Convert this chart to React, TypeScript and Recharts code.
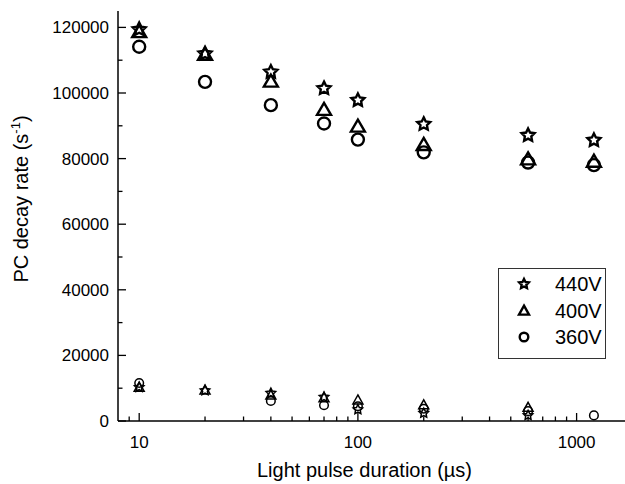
import React from "react";
import { ScatterChart, Scatter, XAxis, YAxis, Label } from "recharts";

// pulse durations (µs)
const durations = [10, 20, 40, 70, 100, 200, 600, 1200];

// fast component decay rates (s^-1)
const fast440 = [119400, 112000, 106400, 101400, 97800, 90500, 87100, 85600];
const fast400 = [118500, 111600, 103400, 94800, 89700, 84100, 79700, 79000];
const fast360 = [114100, 103400, 96300, 90700, 85800, 81900, 78800, 78000];

// slow component decay rates (s^-1)
const slow440 = [10300, 9300, 8500, 7300, 3500, 2400, 1700, null];
const slow400 = [10150, 9300, 7800, 7000, 6300, 4800, 4050, null];
const slow360 = [11600, null, 6100, 4800, 4500, 3750, 3000, 1700];

const xMajorTicks = [10, 100, 1000];
const xMinorTicks = [9, 20, 30, 40, 50, 60, 70, 80, 90, 200, 300, 400, 500, 600, 700, 800, 900];
const yMajorTicks = [0, 20000, 40000, 60000, 80000, 100000, 120000];
const yMinorTicks = [10000, 30000, 50000, 70000, 90000, 110000];

const legendItems = [
  { label: "440V", kind: "star" },
  { label: "400V", kind: "triangle" },
  { label: "360V", kind: "circle" },
];

const FONT = '"Liberation Sans", Arial, sans-serif';
const xTicks = [...xMinorTicks, ...xMajorTicks].sort((a, b) => a - b);
const yTicks = [...yMinorTicks, ...yMajorTicks].sort((a, b) => a - b);

const toPoints = (vals: (number | null)[]) =>
  durations
    .map((d, i) => ({ x: d, y: vals[i] }))
    .filter((p) => p.y !== null);

function starPath(cx: number, cy: number, R: number) {
  const r = R * 0.5;
  let d = "";
  for (let i = 0; i < 10; i++) {
    const rad = i % 2 === 0 ? R : r;
    const a = -Math.PI / 2 + (i * Math.PI) / 5;
    d += (i === 0 ? "M" : "L") + (cx + rad * Math.cos(a)).toFixed(2) + "," + (cy + rad * Math.sin(a)).toFixed(2);
  }
  return d + "Z";
}

// size: 0 = small plot marker, 1 = big plot marker, 2 = legend
function Marker({ kind, cx, cy, size }: { kind: string; cx: number; cy: number; size: number }) {
  const big = size === 1;
  const sw = size === 1 ? 2.4 : size === 2 ? 2.4 : 1.5;
  if (kind === "star") {
    return <path d={starPath(cx, cy, big ? 6.8 : 5)} fill="none" stroke="#000" strokeWidth={sw} strokeLinejoin="miter" />;
  }
  if (kind === "triangle") {
    const h = big ? 12 : 9;
    const w = big ? 14 : 10;
    const d = `M${cx},${cy - h * 0.6}L${cx + w / 2},${cy + h * 0.4}L${cx - w / 2},${cy + h * 0.4}Z`;
    return <path d={d} fill="none" stroke="#000" strokeWidth={sw} />;
  }
  return <circle cx={cx} cy={cy} r={big ? 6 : 4.3} fill="none" stroke="#000" strokeWidth={sw} />;
}

const makeShape = (kind: string, size: number) => (props: any) =>
  <Marker kind={kind} cx={props.cx} cy={props.cy} size={size} />;

const series = [
  { name: "440V", data: toPoints(fast440), kind: "star", size: 1 },
  { name: "400V", data: toPoints(fast400), kind: "triangle", size: 1 },
  { name: "360V", data: toPoints(fast360), kind: "circle", size: 1 },
  { name: "440V slow", data: toPoints(slow440), kind: "star", size: 0 },
  { name: "400V slow", data: toPoints(slow400), kind: "triangle", size: 0 },
  { name: "360V slow", data: toPoints(slow360), kind: "circle", size: 0 },
];

const BottomTick = (props: any) => {
  const { x, y, payload } = props;
  const major = xMajorTicks.includes(payload.value);
  return (
    <g>
      <line x1={x} y1={y} x2={x} y2={y - (major ? 8 : 4.5)} stroke="#000" strokeWidth={1.3} />
      {major && (
        <text x={x} y={y + 27} textAnchor="middle" fontSize={17} fontFamily={FONT} fill="#000">
          {payload.value}
        </text>
      )}
    </g>
  );
};

const TopTick = (props: any) => {
  const { x, y, payload } = props;
  const major = xMajorTicks.includes(payload.value);
  return <line x1={x} y1={y} x2={x} y2={y + (major ? 8 : 4.5)} stroke="#000" strokeWidth={1.3} />;
};

const LeftTick = (props: any) => {
  const { x, y, payload } = props;
  const major = yMajorTicks.includes(payload.value);
  return (
    <g>
      <line x1={x} y1={y} x2={x + (major ? 8 : 4.5)} y2={y} stroke="#000" strokeWidth={1.3} />
      {major && (
        <text x={x - 9} y={y + 6} textAnchor="end" fontSize={17} fontFamily={FONT} fill="#000">
          {payload.value}
        </text>
      )}
    </g>
  );
};

const RightTick = (props: any) => {
  const { x, y, payload } = props;
  const major = yMajorTicks.includes(payload.value);
  return <line x1={x} y1={y} x2={x - (major ? 8 : 4.5)} y2={y} stroke="#000" strokeWidth={1.3} />;
};

const YTitle = (props: any) => {
  const { viewBox } = props;
  const cy = viewBox.y + viewBox.height / 2 - 17;
  const bx = 28;
  return (
    <text
      x={bx}
      y={cy}
      transform={`rotate(-90 ${bx} ${cy})`}
      textAnchor="middle"
      fontSize={20}
      fontFamily={FONT}
      fill="#000"
    >
      PC decay rate (s
      <tspan dy={-8} fontSize={13}>-1</tspan>
      <tspan dy={8}>)</tspan>
    </text>
  );
};

const XTitle = (props: any) => {
  const { viewBox } = props;
  const cx = viewBox.x + viewBox.width / 2 - 8;
  return (
    <text x={cx} y={477} textAnchor="middle" fontSize={20} fontFamily={FONT} fill="#000">
      Light pulse duration (µs)
    </text>
  );
};

function LegendBox() {
  return (
    <div
      style={{
        position: "absolute",
        left: 498,
        top: 268,
        width: 106,
        height: 89,
        border: "1px solid #333",
        background: "#fff",
        fontFamily: FONT,
        fontSize: 20,
      }}
    >
      {legendItems.map((it, i) => (
        <div key={it.label} style={{ position: "absolute", left: 0, top: 2 + i * 26.7, height: 26, width: 106 }}>
          <svg width={40} height={26} style={{ position: "absolute", left: 6, top: 0 }}>
            <Marker kind={it.kind} cx={19} cy={13} size={2} />
          </svg>
          <span style={{ position: "absolute", left: 56, top: 1, lineHeight: "24px" }}>{it.label}</span>
        </div>
      ))}
    </div>
  );
}

export default function App() {
  return (
    <div style={{ position: "absolute", left: 0, top: 0, width: 625, height: 484, overflow: "hidden", background: "#fff" }}>
      <ScatterChart width={630} height={484} margin={{ top: 11, right: 3, bottom: 0, left: 0 }}>
        <XAxis
          dataKey="x"
          type="number"
          scale="log"
          domain={[8, 1700]}
          allowDataOverflow
          ticks={xTicks}
          interval={0}
          height={63}
          tickSize={0}
          tickMargin={0}
          tickLine={false}
          tick={<BottomTick />}
          axisLine={{ stroke: "#000", strokeWidth: 1.5 }}
        >
          <Label content={<XTitle />} />
        </XAxis>
        <XAxis
          xAxisId="top"
          orientation="top"
          type="number"
          scale="log"
          domain={[8, 1700]}
          allowDataOverflow
          ticks={xTicks}
          interval={0}
          height={0}
          tickSize={0}
          tickMargin={0}
          tickLine={false}
          tick={<TopTick />}
          axisLine={{ stroke: "#000", strokeWidth: 1.5 }}
        />
        <YAxis
          dataKey="y"
          type="number"
          domain={[0, 125000]}
          allowDataOverflow
          ticks={yTicks}
          interval={0}
          width={118}
          tickSize={0}
          tickMargin={0}
          tickLine={false}
          tick={<LeftTick />}
          axisLine={{ stroke: "#000", strokeWidth: 1.5 }}
        >
          <Label content={<YTitle />} />
        </YAxis>
        <YAxis
          yAxisId="right"
          orientation="right"
          type="number"
          domain={[0, 125000]}
          allowDataOverflow
          ticks={yTicks}
          interval={0}
          width={0}
          tickSize={0}
          tickMargin={0}
          tickLine={false}
          tick={<RightTick />}
          axisLine={{ stroke: "#000", strokeWidth: 1.5 }}
        />
        {series.map((s) => (
          <Scatter
            key={s.name}
            name={s.name}
            data={s.data}
            shape={makeShape(s.kind, s.size)}
            isAnimationActive={false}
          />
        ))}
      </ScatterChart>
      <LegendBox />
    </div>
  );
}
